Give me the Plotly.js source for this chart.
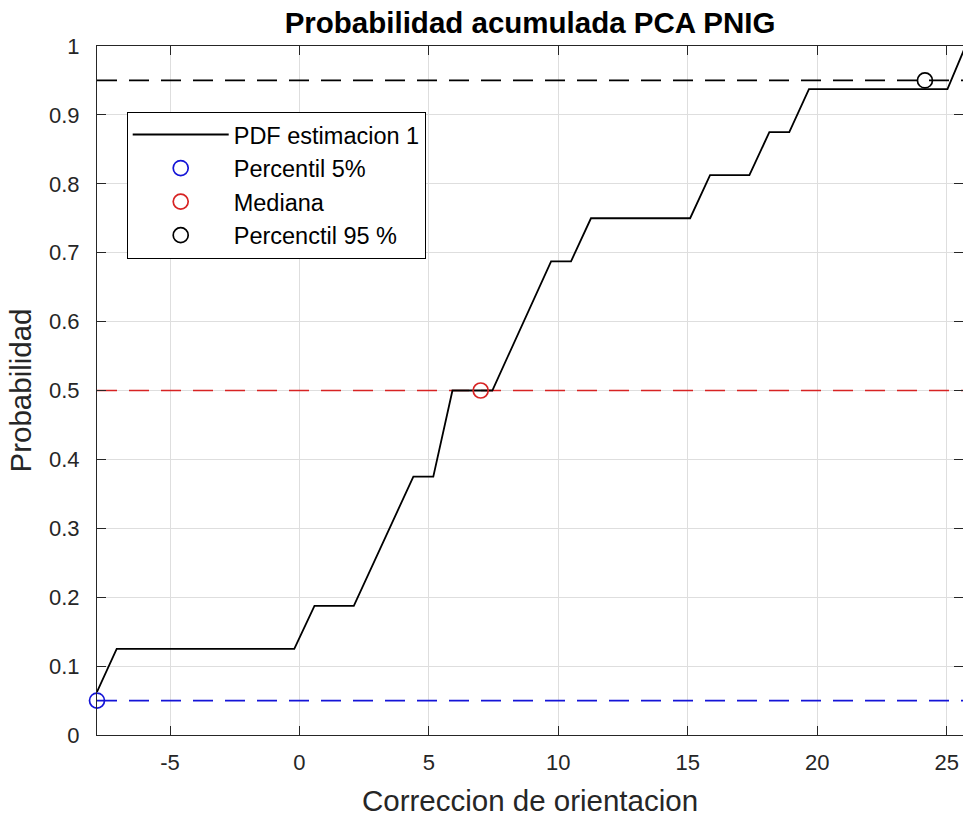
<!DOCTYPE html>
<html>
<head>
<meta charset="utf-8">
<script src="https://cdn.plot.ly/plotly-3.0.1.min.js"></script>
<style>html,body{margin:0;padding:0;background:#fff;}#chart{width:963px;height:817px;}</style>
</head>
<body>
<div id="chart"></div>
<script>
// Cumulative probability curve (x = correccion de orientacion, y = probabilidad)
const curveX = [-7.82, -7.06, -0.20, 0.58, 2.10, 4.40, 5.17, 5.91, 7.45, 9.72, 10.49, 11.26, 15.09, 15.86, 17.38, 18.15, 18.92, 19.68, 25.03, 25.73];
const curveY = [0.0625, 0.125, 0.125, 0.1875, 0.1875, 0.375, 0.375, 0.5, 0.5, 0.6875, 0.6875, 0.75, 0.75, 0.8125, 0.8125, 0.875, 0.875, 0.9375, 0.9375, 1.0];

// Percentile markers
const p5X = [-7.82],  p5Y = [0.05];
const medX = [7.0],   medY = [0.5];
const p95X = [24.16], p95Y = [0.95];

// Reference level lines
const levelX = [-7.82, 25.63];
const levels = [0.05, 0.5, 0.95];

const xRange = [-7.82, 25.63];
const xTicks = [-5, 0, 5, 10, 15, 20, 25];
const yTicks = [0, 0.1, 0.2, 0.3, 0.4, 0.5, 0.6, 0.7, 0.8, 0.9, 1];
const yTickText = ['0', '0.1', '0.2', '0.3', '0.4', '0.5', '0.6', '0.7', '0.8', '0.9', '1'];

const names = ['PDF estimacion 1', 'Percentil 5%', 'Mediana', 'Percenctil 95 %'];
const levelColors = ['rgb(20,20,215)', 'rgb(215,35,35)', 'rgb(0,0,0)'];

const FONT = 'Liberation Sans, Arial, sans-serif';

const traces = [];
// dashed level lines (no legend)
levels.forEach((lv, i) => {
  traces.push({
    x: levelX, y: levelX.map(() => lv), type: 'scatter', mode: 'lines',
    line: {color: levelColors[i], width: 1.7, dash: '20px,12px'},
    showlegend: false, hoverinfo: 'skip'
  });
});
traces.push({
  x: curveX, y: curveY, type: 'scatter', mode: 'lines', name: names[0],
  line: {color: '#000', width: 1.8}, legendgroup: 'g0'
});
const mk = [[p5X, p5Y], [medX, medY], [p95X, p95Y]];
mk.forEach((m, i) => {
  traces.push({
    x: m[0], y: m[1], type: 'scatter', mode: 'markers', name: names[i + 1],
    marker: {symbol: 'circle-open', size: 15, color: levelColors[i], line: {width: 1.7, color: levelColors[i]}},
    cliponaxis: false, legendgroup: 'g' + (i + 1)
  });
});

const layout = {
  width: 963, height: 817,
  margin: {l: 97, r: 0, t: 46, b: 82, pad: 0},
  paper_bgcolor: '#fff', plot_bgcolor: '#fff',
  font: {family: FONT, color: '#262626', size: 21},
  title: {text: '<b>Probabilidad acumulada PCA PNIG</b>', font: {family: FONT, size: 29.5, color: '#000'},
          x: 0.5, xref: 'paper', xanchor: 'center', y: 1 - 23 / 817, yanchor: 'middle'},
  xaxis: {
    range: xRange, tickvals: xTicks, ticktext: xTicks.map(String),
    showgrid: true, gridcolor: '#dedede', gridwidth: 1, zeroline: false,
    showline: true, linecolor: '#262626', linewidth: 1, mirror: 'ticks',
    ticks: 'inside', ticklen: 9, tickcolor: '#262626', tickwidth: 1,
    tickfont: {family: FONT, size: 22, color: '#262626'}, ticklabelstandoff: 8,
    title: {text: 'Correccion de orientacion', font: {family: FONT, size: 29.5, color: '#262626'}, standoff: 16}
  },
  yaxis: {
    range: [0, 1], tickvals: yTicks, ticktext: yTickText,
    showgrid: true, gridcolor: '#dedede', gridwidth: 1, zeroline: false,
    showline: true, linecolor: '#262626', linewidth: 1, mirror: 'ticks',
    ticks: 'inside', ticklen: 9, tickcolor: '#262626', tickwidth: 1,
    tickfont: {family: FONT, size: 22, color: '#262626'}, ticklabelstandoff: 12,
    title: {text: 'Probabilidad', font: {family: FONT, size: 29.5, color: '#262626'}, standoff: 8}
  },
  legend: {
    x: 0.0343, y: 0.9046, xanchor: 'left', yanchor: 'top', xref: 'paper', yref: 'paper',
    bgcolor: '#fff', bordercolor: '#000', borderwidth: 1,
    font: {family: FONT, size: 23.5, color: '#000'},
    itemwidth: 96, traceorder: 'grouped', tracegroupgap: 0,
    itemclick: false, itemdoubleclick: false
  },
  showlegend: true
};

Plotly.newPlot('chart', traces, layout, {staticPlot: true, displayModeBar: false});
</script>
</body>
</html>
